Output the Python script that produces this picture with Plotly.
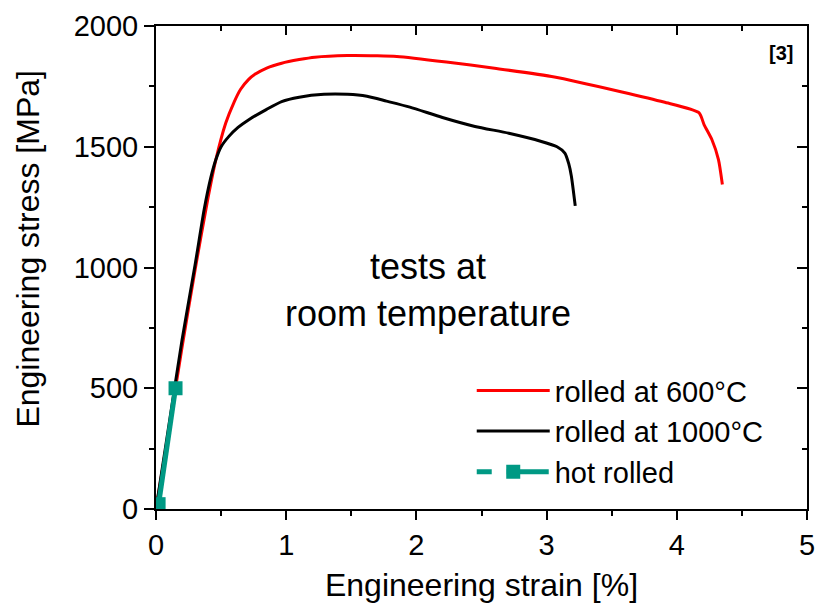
import plotly.graph_objects as go

# ---- data ----
strain_600 = [0, 0.1, 0.2, 0.3, 0.4, 0.46, 0.535, 0.6, 0.65, 0.71, 0.76, 0.85, 0.965, 1.1,
              1.22, 1.47, 1.7, 1.85, 2.23, 2.6, 3.06, 3.57, 3.9, 4.17, 4.21, 4.27, 4.32, 4.35]
stress_600 = [0, 330, 670, 990, 1290, 1447, 1597, 1685, 1738, 1778, 1800, 1826, 1846, 1861,
              1871, 1878, 1877, 1874, 1851, 1825, 1789, 1728, 1685, 1641, 1591, 1529, 1447, 1344]

strain_1000 = [0, 0.1, 0.2, 0.3, 0.37, 0.42, 0.46, 0.5, 0.56, 0.63, 0.71, 0.85, 0.965, 1.1,
               1.29, 1.47, 1.62, 1.77, 1.95, 2.2, 2.45, 2.71, 2.96, 3.08, 3.14, 3.17,
               3.19, 3.22]
stress_1000 = [0, 350, 700, 1010, 1240, 1370, 1447, 1500, 1543, 1580, 1611, 1655, 1687, 1705,
               1717, 1717, 1709, 1689, 1664, 1621, 1584, 1556, 1522, 1500, 1474, 1430,
               1379, 1255]

strain_hot = [0.02, 0.15]
stress_hot = [20, 500]

names = ["rolled at 600°C", "rolled at 1000°C", "hot rolled"]
x_ticks = [0, 1, 2, 3, 4, 5]
y_ticks = [0, 500, 1000, 1500, 2000]

RED = "#FF0000"
BLACK = "#000000"
TEAL = "#009984"
FONT = "Liberation Sans, Arial, sans-serif"

fig = go.Figure()
fig.add_trace(go.Scatter(x=strain_600, y=stress_600, mode="lines", name=names[0],
                         line=dict(color=RED, width=3, shape="spline", smoothing=0.6)))
fig.add_trace(go.Scatter(x=strain_1000, y=stress_1000, mode="lines", name=names[1],
                         line=dict(color=BLACK, width=3, shape="spline", smoothing=0.6)))
fig.add_trace(go.Scatter(x=strain_hot, y=stress_hot, mode="lines+markers", name=names[2],
                         showlegend=False,
                         line=dict(color=TEAL, width=5),
                         marker=dict(symbol="square", size=14, color=TEAL)))
# legend-only entry with dashed style
fig.add_trace(go.Scatter(x=[None], y=[None], mode="lines+markers", name=names[2],
                         line=dict(color=TEAL, width=5, dash="15px,15px,42px"),
                         marker=dict(symbol="square", size=14, color=TEAL)))
# dummy trace for mirror axes
fig.add_trace(go.Scatter(x=[None], y=[None], xaxis="x2", yaxis="y2", showlegend=False,
                         hoverinfo="skip"))

axis_common = dict(showline=True, linecolor="black", linewidth=2, showgrid=False,
                   zeroline=False, tickcolor="black", tickwidth=2)

fig.update_layout(
    width=825, height=609,
    margin=dict(l=156, r=10, t=22, b=100),
    plot_bgcolor="white", paper_bgcolor="white",
    font=dict(family=FONT, size=29, color="black"),
    xaxis=dict(range=[0, 5], tickvals=x_ticks, ticks="outside", ticklen=9,
               minor=dict(dtick=0.5, tick0=0, ticks="outside", ticklen=5, tickwidth=2,
                          tickcolor="black"),
               title=dict(text="Engineering strain [%]", font=dict(size=32), standoff=14),
               tickfont=dict(size=29), **axis_common),
    yaxis=dict(range=[0, 2000], tickvals=y_ticks, ticks="outside", ticklen=10,
               minor=dict(dtick=250, tick0=0, ticks="outside", ticklen=5, tickwidth=2,
                          tickcolor="black"),
               tickfont=dict(size=29), **axis_common),
    xaxis2=dict(range=[0, 5], overlaying="x", side="top", anchor="y", tickvals=x_ticks,
                ticks="inside", ticklen=9, showticklabels=False,
                minor=dict(dtick=0.5, tick0=0, ticks="inside", ticklen=5, tickwidth=2,
                           tickcolor="black"),
                **axis_common),
    yaxis2=dict(range=[0, 2000], overlaying="y", side="right", anchor="x", tickvals=y_ticks,
                ticks="inside", ticklen=10, showticklabels=False,
                minor=dict(dtick=250, tick0=0, ticks="inside", ticklen=5, tickwidth=2,
                           tickcolor="black"),
                **axis_common),
    legend=dict(x=0.485, y=0.298, xanchor="left", yanchor="top", bgcolor="rgba(0,0,0,0)",
                font=dict(size=29), itemwidth=73, tracegroupgap=0),
    showlegend=True,
)

fig.add_annotation(x=-0.196, y=0.54, xref="paper", yref="paper",
                   text="Engineering stress [MPa]", textangle=-90, showarrow=False,
                   font=dict(size=32), xanchor="center", yanchor="middle")
fig.add_annotation(x=2.09, y=907, xref="x", yref="y",
                   text="tests at<br>room temperature", showarrow=False,
                   font=dict(size=36), yanchor="middle", align="center")
fig.add_annotation(x=0.96, y=0.945, xref="paper", yref="paper",
                   text="<b>[3]</b>", showarrow=False, font=dict(size=20),
                   xanchor="center", yanchor="middle")

fig.write_html("out.html")
